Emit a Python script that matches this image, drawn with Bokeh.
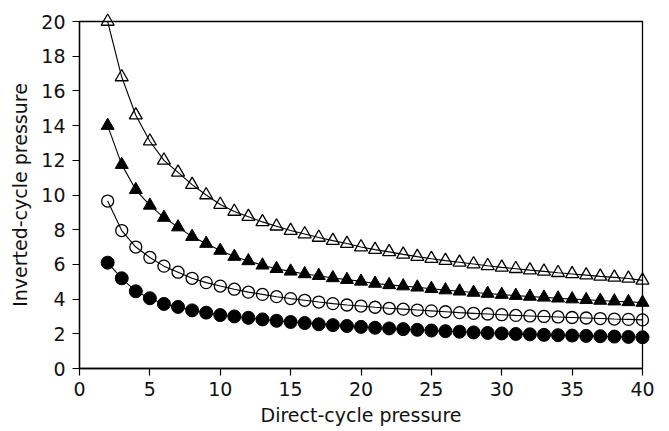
from bokeh.plotting import figure
from bokeh.embed import file_html
from bokeh.resources import INLINE
from bokeh.models import FixedTicker

x = list(range(2, 41))

open_tri = [20.0, 16.8, 14.6, 13.1, 12.0, 11.3, 10.6, 10.0, 9.45, 9.05,
            8.75, 8.45, 8.2, 7.95, 7.75, 7.55, 7.37, 7.2, 7.0, 6.85,
            6.72, 6.58, 6.45, 6.33, 6.22, 6.12, 6.02, 5.92, 5.83, 5.75,
            5.67, 5.6, 5.52, 5.45, 5.38, 5.31, 5.25, 5.19, 5.08]
filled_tri = [14.0, 11.75, 10.3, 9.4, 8.7, 8.15, 7.6, 7.2, 6.8, 6.45,
              6.2, 5.95, 5.75, 5.6, 5.45, 5.35, 5.22, 5.12, 5.02, 4.9,
              4.82, 4.75, 4.68, 4.6, 4.52, 4.45, 4.38, 4.32, 4.26, 4.2,
              4.15, 4.1, 4.05, 4.0, 3.96, 3.92, 3.88, 3.84, 3.8]
open_circ = [9.65, 7.95, 7.0, 6.4, 5.9, 5.55, 5.2, 4.95, 4.75, 4.57,
             4.4, 4.27, 4.14, 4.03, 3.93, 3.83, 3.74, 3.66, 3.6, 3.53,
             3.47, 3.42, 3.37, 3.32, 3.27, 3.22, 3.18, 3.14, 3.1, 3.06,
             3.03, 3.0, 2.97, 2.94, 2.91, 2.88, 2.85, 2.83, 2.8]
filled_circ = [6.1, 5.2, 4.45, 4.05, 3.72, 3.55, 3.35, 3.22, 3.08, 3.0,
               2.92, 2.83, 2.75, 2.68, 2.62, 2.55, 2.5, 2.45, 2.4, 2.35,
               2.31, 2.27, 2.23, 2.19, 2.15, 2.12, 2.08, 2.05, 2.02, 1.99,
               1.97, 1.94, 1.92, 1.9, 1.88, 1.86, 1.84, 1.82, 1.8]

x_ticks = [0, 5, 10, 15, 20, 25, 30, 35, 40]
y_ticks = [0, 2, 4, 6, 8, 10, 12, 14, 16, 18, 20]

p = figure(width=669, height=431, output_backend="svg", toolbar_location=None,
           x_range=(0, 40), y_range=(0, 20),
           min_border_left=79, min_border_right=27, min_border_top=21, min_border_bottom=63)

p.xgrid.visible = False
p.ygrid.visible = False
p.outline_line_color = "black"
p.outline_line_width = 1.3
p.background_fill_color = "white"
p.border_fill_color = "white"

FONT = "DejaVu Sans"
for ax in (p.xaxis[0], p.yaxis[0]):
    ax.axis_line_color = "black"
    ax.axis_line_width = 1.3
    ax.major_tick_line_color = "black"
    ax.major_tick_line_width = 1.2
    ax.major_tick_in = 0
    ax.major_tick_out = 7
    ax.minor_tick_line_color = None
    ax.major_label_text_font = FONT
    ax.major_label_text_font_size = "19px"
    ax.major_label_text_color = "#111111"
    ax.axis_label_text_font = FONT
    ax.axis_label_text_font_size = "19px"
    ax.axis_label_text_font_style = "normal"
    ax.axis_label_text_color = "#111111"

p.xaxis[0].ticker = FixedTicker(ticks=x_ticks)
p.yaxis[0].ticker = FixedTicker(ticks=y_ticks)
p.xaxis[0].axis_label = "Direct-cycle pressure"
p.yaxis[0].axis_label = "Inverted-cycle pressure"
p.xaxis[0].major_label_standoff = 6
p.xaxis[0].axis_label_standoff = 5
p.yaxis[0].major_label_standoff = 7
p.yaxis[0].axis_label_standoff = 7

for ys in (open_tri, filled_tri, open_circ, filled_circ):
    p.line(x, ys, line_color="black", line_width=1.1)

p.scatter(x, open_tri, marker="triangle", size=13, fill_color=None,
          line_color="black", line_width=1.3, level="overlay")
p.scatter(x, filled_tri, marker="triangle", size=13, fill_color="black",
          line_color="black", line_width=1.0, level="overlay")
p.scatter(x, open_circ, marker="circle", size=12, fill_color=None,
          line_color="black", line_width=1.3, level="overlay")
p.scatter(x, filled_circ, marker="circle", size=13, fill_color="black",
          line_color="black", line_width=1.0, level="overlay")

open("out.html", "w").write(file_html(p, INLINE))
